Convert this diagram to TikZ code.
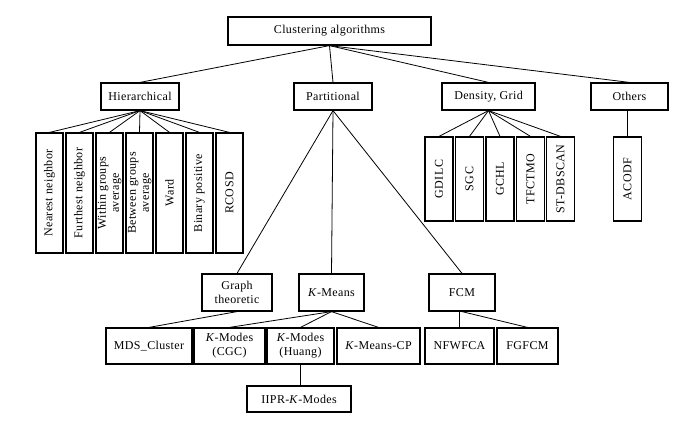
\documentclass[tikz,border=0pt]{standalone}
\usepackage{fontspec}
\setmainfont{Liberation Serif}[LetterSpace=3]
\newcommand{\vlab}[1]{\makebox[0pt]{\rotatebox{90}{#1}}}
\newcommand{\KK}{\textit{K}}
\begin{document}
\begin{tikzpicture}[x=1pt,y=-1pt,
  box/.style={draw, line width=1.2pt, inner sep=0pt, align=center, font=\fontsize{12}{14}\selectfont},
  vbox/.style={box, minimum width=27pt, minimum height=120pt},
  dbox/.style={box, minimum width=28pt, minimum height=84pt},
  link/.style={line width=0.8pt}]
\useasboundingbox (0,0) rectangle (692,428);
% level 0
\node[box, minimum width=203pt, minimum height=28pt] (root) at (329.5,31) {Clustering algorithms};
% level 1
\node[box, minimum width=78pt, minimum height=27pt] (hier) at (140,96.5) {Hierarchical};
\node[box, minimum width=78pt, minimum height=27pt] (part) at (333,96.5) {Partitional};
\node[box, minimum width=93pt, minimum height=27pt] (dens) at (488.5,96.5) {Density, Grid};
\node[box, minimum width=77pt, minimum height=27pt] (oth) at (629.5,96.5) {Others};
% hierarchical children
\node[vbox] (h1) at (49.5,193) {\vlab{Nearest neighbor}};
\node[vbox] (h2) at (79.5,193) {\vlab{Furthest neighbor}};
\node[vbox] (h3) at (109.5,193) {\vlab{\begin{tabular}{@{}c@{}}Within groups\\[-1pt]average\end{tabular}}};
\node[vbox] (h4) at (139.5,193) {\vlab{\begin{tabular}{@{}c@{}}Between groups\\[-1pt]average\end{tabular}}};
\node[vbox] (h5) at (169.5,193) {\vlab{Ward}};
\node[vbox] (h6) at (199.5,193) {\vlab{Binary positive}};
\node[vbox] (h7) at (229.5,193) {\vlab{RCOSD}};
% density children
\node[dbox] (d1) at (439,179) {\vlab{GDILC}};
\node[dbox] (d2) at (469.5,179) {\vlab{SGC}};
\node[dbox] (d3) at (500,179) {\vlab{GCHL}};
\node[dbox] (d4) at (530.5,179) {\vlab{TFCTMO}};
\node[dbox] (d5) at (560.5,179) {\vlab{ST-DBSCAN}};
\node[dbox] (o1) at (627.5,179) {\vlab{ACODF}};
% partitional children
\node[box, minimum width=70pt, minimum height=37pt] (graph) at (237,292.5) {Graph\\theoretic};
\node[box, minimum width=65pt, minimum height=37pt] (kmeans) at (331.5,292.5) {\KK-Means};
\node[box, minimum width=66pt, minimum height=37pt] (fcm) at (462,292.5) {FCM};
% bottom row
\node[box, minimum width=86pt, minimum height=36pt] (mds) at (149,346) {MDS\_Cluster};
\node[box, minimum width=71pt, minimum height=36pt] (cgc) at (229.5,346) {\KK-Modes\\(CGC)};
\node[box, minimum width=67pt, minimum height=36pt] (huang) at (300.5,346) {\KK-Modes\\(Huang)};
\node[box, minimum width=83pt, minimum height=36pt] (kmcp) at (378.5,346) {\KK-Means-CP};
\node[box, minimum width=69pt, minimum height=36pt] (nfw) at (459.5,346) {NFWFCA};
\node[box, minimum width=61pt, minimum height=36pt] (fgf) at (527.5,346) {FGFCM};
\node[box, minimum width=104pt, minimum height=26pt] (iipr) at (299,399) {IIPR-\KK-Modes};
% connectors
\foreach \c in {hier,part,dens,oth} \draw[link] (root.south) -- (\c.north);
\foreach \c in {h1,h2,h3,h4,h5,h6,h7} \draw[link] (hier.south) -- (\c.north);
\foreach \c in {d1,d2,d3,d4,d5} \draw[link] (dens.south) -- (\c.north);
\draw[link] (o1.north |- oth.south) -- (o1.north);
\foreach \c in {graph,kmeans,fcm} \draw[link] (part.south) -- (\c.north);
\draw[link] (graph.south) -- (mds.north);
\foreach \c in {cgc,huang,kmcp} \draw[link] (kmeans.south) -- (\c.north);
\draw[link] (nfw.north |- fcm.south) -- (nfw.north);
\draw[link] (fcm.south) -- (fgf.north);
\draw[link] (huang.south) -- (huang.south |- iipr.north);
\end{tikzpicture}
\end{document}
